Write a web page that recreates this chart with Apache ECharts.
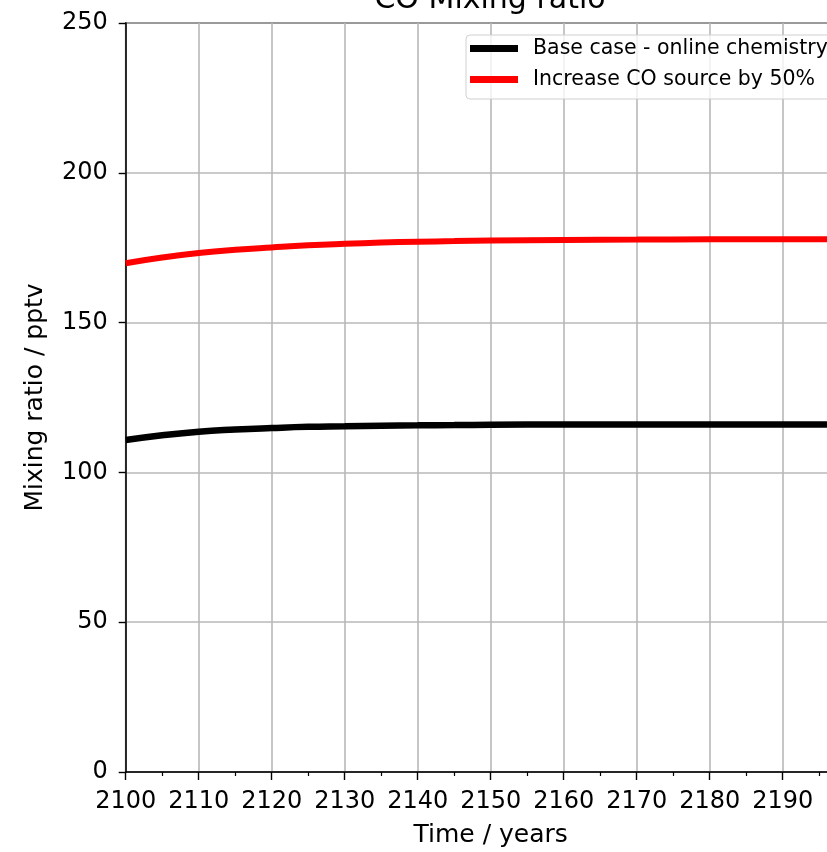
<!DOCTYPE html>
<html>
<head>
<meta charset="utf-8">
<script src="https://cdn.jsdelivr.net/npm/echarts@6/dist/echarts.min.js"></script>
<style>
  html, body { margin: 0; padding: 0; background: #fff; overflow: hidden; }
  #chart { width: 827px; height: 852px; }
</style>
</head>
<body>
<div id="chart"></div>
<script>
// years and values
const years = [2100, 2105, 2110, 2115, 2120, 2125, 2130, 2135, 2140, 2145, 2150, 2160, 2170, 2180, 2190, 2200];
const baseCase = [110.8, 112.4, 113.6, 114.3, 114.8, 115.2, 115.4, 115.6, 115.7, 115.8, 115.9, 116.0, 116.0, 116.0, 116.0, 116.0];
const increasedCO = [169.8, 171.7, 173.2, 174.3, 175.1, 175.8, 176.3, 176.7, 177.0, 177.2, 177.4, 177.6, 177.7, 177.8, 177.8, 177.8];
const seriesNames = ['Base case - online chemistry', 'Increase CO source by 50%'];

const chart = echarts.init(document.getElementById('chart'));
const font = 'DejaVu Sans';

chart.setOption({
  animation: false,
  textStyle: { fontFamily: font },
  title: {
    text: 'CO Mixing ratio',
    left: 485,
    textAlign: 'center',
    top: -20,
    textStyle: { fontFamily: font, fontSize: 30, fontWeight: 'normal', color: '#000' }
  },
  legend: {
    orient: 'vertical',
    left: 466,
    top: 35,
    padding: [3, 8, 9, 4],
    itemGap: 10,
    itemWidth: 48,
    itemHeight: 7,
    icon: 'rect',
    backgroundColor: 'rgba(255,255,255,0.8)',
    borderColor: '#d0d0d0',
    borderWidth: 1,
    borderRadius: 4,
    textStyle: { fontFamily: font, fontSize: 20.5, color: '#000', padding: [0, 0, 0, 10] },
    data: seriesNames
  },
  grid: {
    left: 125.7,
    top: 23,
    width: 730,
    height: 749,
    outerBoundsMode: 'none',
    show: true,
    borderColor: '#000',
    borderWidth: 1.5
  },
  xAxis: {
    type: 'value',
    min: 2100,
    max: 2200,
    interval: 10,
    name: 'Time / years',
    nameLocation: 'middle',
    nameGap: 51,
    nameTextStyle: { fontFamily: font, fontSize: 25, color: '#000' },
    axisLine: { lineStyle: { color: '#000', width: 1.5 } },
    axisTick: { inside: false, length: 8, lineStyle: { color: '#000', width: 1.4 } },
    minorTick: { show: true, splitNumber: 2, length: 4, lineStyle: { color: '#000', width: 1.2 } },
    axisLabel: { fontFamily: font, fontSize: 24, color: '#000', margin: 18, formatter: v => String(v) },
    splitLine: { show: true, lineStyle: { color: '#b8b8b8', width: 1.6 } }
  },
  yAxis: {
    type: 'value',
    min: 0,
    max: 250,
    interval: 50,
    name: 'Mixing ratio / pptv',
    nameLocation: 'middle',
    nameGap: 78,
    nameTextStyle: { fontFamily: font, fontSize: 25, color: '#000' },
    axisLine: { show: true, lineStyle: { color: '#000', width: 1.5 } },
    axisTick: { show: true, inside: false, length: 7, lineStyle: { color: '#000', width: 1.4 } },
    axisLabel: { fontFamily: font, fontSize: 24, color: '#000', margin: 18 },
    splitLine: { show: true, lineStyle: { color: '#b8b8b8', width: 1.6 } }
  },
  series: [
    {
      name: seriesNames[0],
      type: 'line',
      smooth: true,
      showSymbol: false,
      color: '#000',
      lineStyle: { color: '#000', width: 6.5 },
      data: years.map((y, i) => [y, baseCase[i]])
    },
    {
      name: seriesNames[1],
      type: 'line',
      smooth: true,
      showSymbol: false,
      color: '#ff0000',
      lineStyle: { color: '#ff0000', width: 6 },
      data: years.map((y, i) => [y, increasedCO[i]])
    }
  ]
});
</script>
</body>
</html>
